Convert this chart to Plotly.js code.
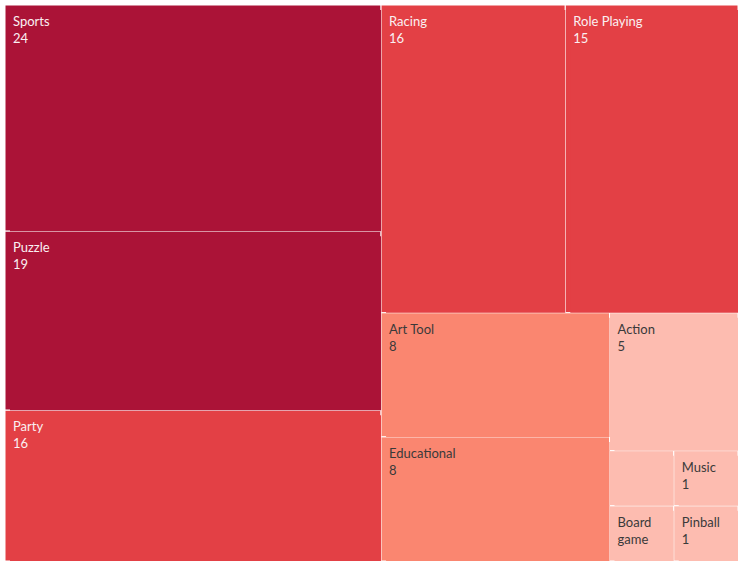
<!DOCTYPE html>
<html>
<head>
<meta charset="utf-8">
<script src="https://cdn.plot.ly/plotly-3.0.1.min.js"></script>
<style>html,body{margin:0;padding:0;background:#fff;}#chart{width:742px;height:565px;}</style>
</head>
<body>
<div id="chart"></div>
<script>
const categories = ["Sports", "Puzzle", "Party", "Racing", "Role Playing", "Art Tool", "Educational", "Action", "Strategy", "Board game", "Music", "Pinball"];
const counts = [24, 19, 16, 16, 15, 8, 8, 5, 1, 1, 1, 1];
const shownText = ["Sports<br>24", "Puzzle<br>19", "Party<br>16", "Racing<br>16", "Role Playing<br>15", "Art Tool<br>8", "Educational<br>8", "Action<br>5", " ", "Board<br>game", "Music<br>1", "Pinball<br>1"];

function colorFor(v) {
  if (v >= 17) return "#AB1337";
  if (v >= 10) return "#E34045";
  if (v >= 6) return "#FA8670";
  return "#FDBCB0";
}
function textColorFor(v) {
  return v >= 10 ? "#FAF0F2" : "#3A3A3A";
}

const total = counts.reduce((a, b) => a + b, 0);
// root -> category cell -> inner label cell (same colour, gives the label inset)
const ids = ["root"], labels = [""], parents = [""], values = [total];
const colors = ["#FFFFFF"], tcolors = ["#FFFFFF"], templates = [" "], lineW = [0];
categories.forEach((c, i) => {
  ids.push("cat_" + i); labels.push(""); parents.push("root"); values.push(counts[i]);
  colors.push(colorFor(counts[i])); tcolors.push(colorFor(counts[i])); templates.push(" "); lineW.push(1);
});
categories.forEach((c, i) => {
  ids.push("in_" + i); labels.push(c); parents.push("cat_" + i); values.push(counts[i]);
  colors.push(colorFor(counts[i])); tcolors.push(textColorFor(counts[i])); templates.push(shownText[i]); lineW.push(0);
});

Plotly.newPlot("chart", [{
  type: "treemap",
  ids: ids,
  labels: labels,
  parents: parents,
  values: values,
  branchvalues: "total",
  sort: true,
  texttemplate: templates,
  textposition: "top left",
  textfont: {family: "Lato, 'Open Sans', sans-serif", size: 13, color: tcolors},
  hovertemplate: "%{label}: %{value}<extra></extra>",
  marker: {
    colors: colors,
    line: {color: "#FFFFFF", width: lineW},
    pad: {t: 5, l: 5, r: 0, b: 0}
  },
  tiling: {packing: "squarify", squarifyratio: 1.618034, pad: 0},
  pathbar: {visible: false},
  root: {color: "#FFFFFF"}
}], {
  width: 742,
  height: 565,
  margin: {l: 0, r: 4, t: 0, b: 4},
  paper_bgcolor: "#FFFFFF",
  showlegend: false
}, {displayModeBar: false, staticPlot: true});
</script>
</body>
</html>
